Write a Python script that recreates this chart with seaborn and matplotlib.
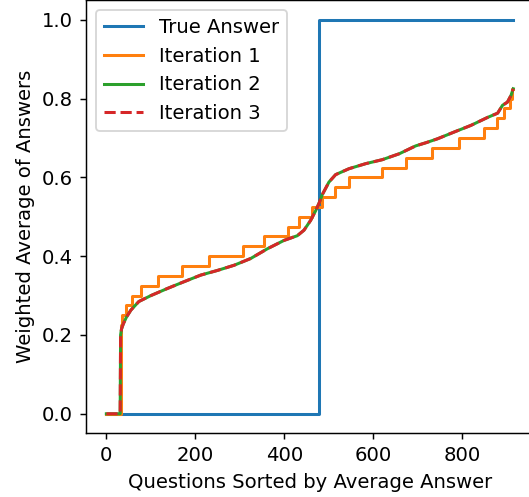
import matplotlib
matplotlib.use("Agg")
import matplotlib.pyplot as plt
import seaborn as sns

# Ground-truth label per question (0 until the switch point, then 1)
true_x = [0, 477, 914]
true_y = [0.0, 1.0, 1.0]

# Iteration 1: coarse step estimate (value held until the next breakpoint)
it1_x = [0, 32, 36, 45, 57, 77, 116, 171, 231, 308, 354, 408, 433, 461,
         484, 513, 544, 619, 674, 731, 792, 849, 877, 893, 907, 911, 914]
it1_y = [0.0, 0.225, 0.25, 0.275, 0.30, 0.325, 0.35, 0.375, 0.40, 0.425,
         0.45, 0.475, 0.50, 0.525, 0.55, 0.575, 0.60, 0.625, 0.65, 0.675,
         0.70, 0.725, 0.75, 0.775, 0.80, 0.825, 0.825]

# Iteration 2: refined weighted average
it2_x = [0, 31, 32, 34, 38, 45, 55, 73, 100, 137, 174, 212, 250, 287, 324,
         362, 399, 429, 444, 459, 470, 478, 485, 500, 515, 545, 583, 620,
         658, 695, 718, 744, 781, 819, 856, 879, 890, 901, 909, 914]
it2_y = [0.0, 0.0, 0.20, 0.215, 0.228, 0.245, 0.263, 0.285, 0.300, 0.318,
         0.335, 0.352, 0.364, 0.377, 0.394, 0.419, 0.440, 0.452, 0.466,
         0.491, 0.515, 0.535, 0.556, 0.588, 0.607, 0.622, 0.635, 0.645,
         0.660, 0.680, 0.688, 0.698, 0.715, 0.732, 0.752, 0.763, 0.783,
         0.791, 0.808, 0.825]

# Iteration 3: converged weighted average
it3_x = [0, 31, 32, 34, 38, 45, 55, 73, 100, 137, 174, 212, 250, 287, 324,
         362, 399, 429, 444, 459, 470, 478, 485, 500, 515, 545, 583, 620,
         658, 695, 718, 744, 781, 819, 856, 879, 890, 901, 909, 914]
it3_y = [0.0, 0.0, 0.20, 0.215, 0.228, 0.245, 0.263, 0.285, 0.300, 0.318,
         0.335, 0.352, 0.364, 0.377, 0.394, 0.419, 0.440, 0.452, 0.466,
         0.491, 0.515, 0.535, 0.556, 0.588, 0.607, 0.622, 0.635, 0.645,
         0.660, 0.680, 0.688, 0.698, 0.715, 0.732, 0.752, 0.763, 0.783,
         0.791, 0.808, 0.825]

x_ticks = [0, 200, 400, 600, 800]
y_ticks = [0.0, 0.2, 0.4, 0.6, 0.8, 1.0]

plt.rcParams.update(matplotlib.rcParamsDefault)
plt.rcParams["font.family"] = ["DejaVu Sans"]
plt.rcParams["font.size"] = 10.7

dpi = 132
lw = 1.65
fig = plt.figure(figsize=(529 / dpi, 497 / dpi), dpi=dpi)
ax = fig.add_axes([0.1626, 0.1278, 0.846, 0.872])

sns.lineplot(x=true_x, y=true_y, ax=ax, color="#1f77b4", estimator=None,
             drawstyle="steps-post", label="True Answer", linewidth=lw)
sns.lineplot(x=it1_x, y=it1_y, ax=ax, color="#ff7f0e", estimator=None,
             drawstyle="steps-post", label="Iteration 1", linewidth=lw)
sns.lineplot(x=it2_x, y=it2_y, ax=ax, color="#2ca02c", estimator=None,
             label="Iteration 2", linewidth=lw)
sns.lineplot(x=it3_x, y=it3_y, ax=ax, color="#d62728", estimator=None,
             linestyle="--", label="Iteration 3", linewidth=lw)

ax.set_xticks(x_ticks)
ax.set_yticks(y_ticks)
ax.set_xlabel("Questions Sorted by Average Answer")
ax.set_ylabel("Weighted Average of Answers")
ax.legend(loc="upper left")

fig.savefig("out.png", dpi=dpi)
